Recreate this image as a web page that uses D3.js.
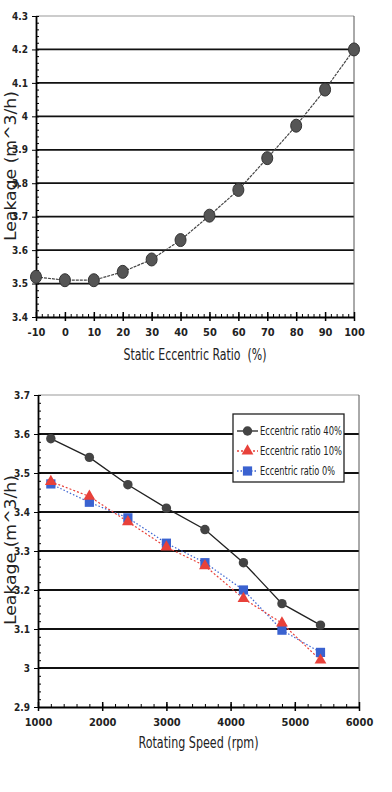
<!DOCTYPE html>
<meta charset="utf-8">
<script src="https://d3js.org/d3.v7.min.js"></script>
<style>
  body { margin: 0; background: #fff; }
  text { font-family: "DejaVu Sans", sans-serif; font-stretch: condensed; fill: #222; }
</style>
<div id="my_dataviz"></div>
<script>

// top chart data
var eccRatio = [-10, 0, 10, 20, 30, 40, 50, 60, 70, 80, 90, 100];
var eccLeak = [3.52, 3.51, 3.51, 3.535, 3.572, 3.63, 3.703, 3.78, 3.875, 3.972, 4.08, 4.2];
var topTicksX = [-10, 0, 10, 20, 30, 40, 50, 60, 70, 80, 90, 100];
var topTicksY = [3.4, 3.5, 3.6, 3.7, 3.8, 3.9, 4.0, 4.1, 4.2, 4.3];

// bottom chart data
var speed = [1200, 1800, 2400, 3000, 3600, 4200, 4800, 5400];
var leak40 = [3.588, 3.54, 3.47, 3.41, 3.355, 3.27, 3.165, 3.11];
var leak10 = [3.478, 3.44, 3.375, 3.31, 3.262, 3.178, 3.115, 3.02];
var leak0 = [3.472, 3.425, 3.385, 3.32, 3.27, 3.2, 3.097, 3.04];
var seriesNames = ["Eccentric ratio 40%", "Eccentric ratio 10%", "Eccentric ratio 0%"];
var botTicksX = [1000, 2000, 3000, 4000, 5000, 6000];
var botTicksY = [2.9, 3.0, 3.1, 3.2, 3.3, 3.4, 3.5, 3.6, 3.7];

var svg = d3.select("#my_dataviz")
  .append("svg")
    .attr("width", 392)
    .attr("height", 792);

// draws the frame, grid and axes of one panel
function drawFrame(x, y, ticksX, ticksY, minorX, minorY, xTitle, titleY, titleLen, yTitleY) {
  var g = svg.append("g");
  var x0 = x.range()[0], x1 = x.range()[1];
  var y0 = y.range()[0], y1 = y.range()[1];

  // horizontal grid lines
  g.selectAll(".grid")
    .data(ticksY.slice(1, -1))
    .enter().append("line")
      .attr("x1", x0).attr("x2", x1)
      .attr("y1", function(d) { return y(d); })
      .attr("y2", function(d) { return y(d); })
      .attr("stroke", "#111")
      .attr("stroke-width", 1.8);

  // top and right border
  g.append("line").attr("x1", x0).attr("x2", x1).attr("y1", y1).attr("y2", y1)
    .attr("stroke", "#999").attr("stroke-width", 1);
  g.append("line").attr("x1", x1).attr("x2", x1).attr("y1", y1).attr("y2", y0)
    .attr("stroke", "#555").attr("stroke-width", 1);

  // minor ticks
  g.append("g")
    .attr("transform", "translate(0," + y0 + ")")
    .call(d3.axisBottom(x).tickValues(minorX).tickSize(-3).tickFormat(""))
    .call(function(a) { a.select(".domain").remove(); });
  g.append("g")
    .attr("transform", "translate(" + x0 + ",0)")
    .call(d3.axisLeft(y).tickValues(minorY).tickSize(-3).tickFormat(""))
    .call(function(a) { a.select(".domain").remove(); });

  // x axis
  var ax = g.append("g")
    .attr("transform", "translate(0," + y0 + ")")
    .call(d3.axisBottom(x).tickValues(ticksX).tickSize(4).tickSizeOuter(0).tickPadding(7)
      .tickFormat(function(d) { return String(d); }));
  ax.select(".domain").attr("stroke-width", 1.8);
  ax.selectAll(".tick line").attr("y1", -5).attr("stroke-width", 1.5);
  ax.selectAll("text").style("font-size", "11px").style("font-weight", "bold");

  // y axis
  var ay = g.append("g")
    .attr("transform", "translate(" + x0 + ",0)")
    .call(d3.axisLeft(y).tickValues(ticksY).tickSize(4).tickSizeOuter(0).tickPadding(4)
      .tickFormat(function(d) { return String(+d.toFixed(1)); }));
  ay.select(".domain").attr("stroke-width", 1.8);
  ay.selectAll("text").style("font-size", "10px").style("font-weight", "bold");

  // axis titles
  g.append("text")
    .attr("x", (x0 + x1) / 2)
    .attr("y", titleY)
    .attr("text-anchor", "middle")
    .attr("textLength", titleLen)
    .attr("lengthAdjust", "spacingAndGlyphs")
    .style("font-size", "15px")
    .text(xTitle);
  g.append("text")
    .attr("transform", "translate(16," + yTitleY + ") rotate(-90)")
    .attr("text-anchor", "middle")
    .attr("textLength", 150)
    .attr("lengthAdjust", "spacingAndGlyphs")
    .style("font-size", "16px")
    .text("Leakage (m^3/h)");
}

// ---------------- top chart ----------------
var xTop = d3.scaleLinear().domain([-10, 100]).range([36, 354]);
var yTop = d3.scaleLinear().domain([3.4, 4.3]).range([317, 16]);

drawFrame(xTop, yTop, topTicksX, topTicksY,
  d3.range(-10, 100.1, 2), d3.range(3.4, 4.301, 0.02),
  "Static Eccentric Ratio\u00a0\u00a0(%)", 360, 143, 166);

var topData = eccRatio.map(function(d, i) { return [d, eccLeak[i]]; });

svg.append("path")
  .datum(topData)
  .attr("fill", "none")
  .attr("stroke", "#444")
  .attr("stroke-width", 1.2)
  .attr("stroke-dasharray", "3,1")
  .attr("d", d3.line()
    .x(function(d) { return xTop(d[0]); })
    .y(function(d) { return yTop(d[1]); }));

svg.append("g")
  .selectAll("ellipse")
  .data(topData)
  .enter().append("ellipse")
    .attr("cx", function(d) { return xTop(d[0]); })
    .attr("cy", function(d) { return yTop(d[1]); })
    .attr("rx", 5.5)
    .attr("ry", 6.5)
    .attr("fill", "#555")
    .attr("stroke", "#333")
    .attr("stroke-width", 1);

// ---------------- bottom chart ----------------
var xBot = d3.scaleLinear().domain([1000, 6000]).range([38, 359]);
var yBot = d3.scaleLinear().domain([2.9, 3.7]).range([707, 395]);

drawFrame(xBot, yBot, botTicksX, botTicksY,
  d3.range(1000, 6001, 200), d3.range(2.9, 3.701, 0.02),
  "Rotating Speed (rpm)", 748, 120, 550);

var series = [
  { name: seriesNames[0], values: leak40, color: "#222", dash: null, shape: "circle" },
  { name: seriesNames[1], values: leak10, color: "#e8413a", dash: "2,2", shape: "triangle" },
  { name: seriesNames[2], values: leak0, color: "#3a62d0", dash: "1.5,2", shape: "square" }
];

var lineBot = d3.line()
  .x(function(d, i) { return xBot(speed[i]); })
  .y(function(d) { return yBot(d); });

function symbolFor(shape) {
  if (shape === "circle") return d3.symbol().type(d3.symbolCircle).size(70);
  if (shape === "triangle") return d3.symbol().type(d3.symbolTriangle).size(60);
  return d3.symbol().type(d3.symbolSquare).size(85);
}

// draw squares first, then triangles, then circles on top
[2, 1, 0].forEach(function(k) {
  var s = series[k];
  svg.append("path")
    .datum(s.values)
    .attr("fill", "none")
    .attr("stroke", s.color)
    .attr("stroke-width", s.shape === "circle" ? 1.3 : 1.2)
    .attr("stroke-dasharray", s.dash)
    .attr("d", lineBot);
});
[2, 1, 0].forEach(function(k) {
  var s = series[k];
  svg.append("g")
    .selectAll("path")
    .data(s.values)
    .enter().append("path")
      .attr("transform", function(d, i) { return "translate(" + xBot(speed[i]) + "," + yBot(d) + ")"; })
      .attr("d", symbolFor(s.shape))
      .attr("fill", s.shape === "circle" ? "#444" : s.color);
});

// legend
var lg = svg.append("g").attr("transform", "translate(233,414)");
lg.append("rect")
  .attr("width", 111).attr("height", 68)
  .attr("fill", "#fff").attr("stroke", "#222").attr("stroke-width", 1.3);
series.forEach(function(s, i) {
  var yy = 17 + i * 20;
  lg.append("line")
    .attr("x1", 4).attr("x2", 25).attr("y1", yy).attr("y2", yy)
    .attr("stroke", s.color).attr("stroke-width", 1.3)
    .attr("stroke-dasharray", s.dash);
  lg.append("path")
    .attr("transform", "translate(14.5," + yy + ")")
    .attr("d", symbolFor(s.shape))
    .attr("fill", s.shape === "circle" ? "#444" : s.color);
  lg.append("text")
    .attr("x", 27).attr("y", yy + 4)
    .attr("textLength", i === 2 ? 75 : 82)
    .attr("lengthAdjust", "spacingAndGlyphs")
    .style("font-size", "12px")
    .text(s.name);
});

</script>
